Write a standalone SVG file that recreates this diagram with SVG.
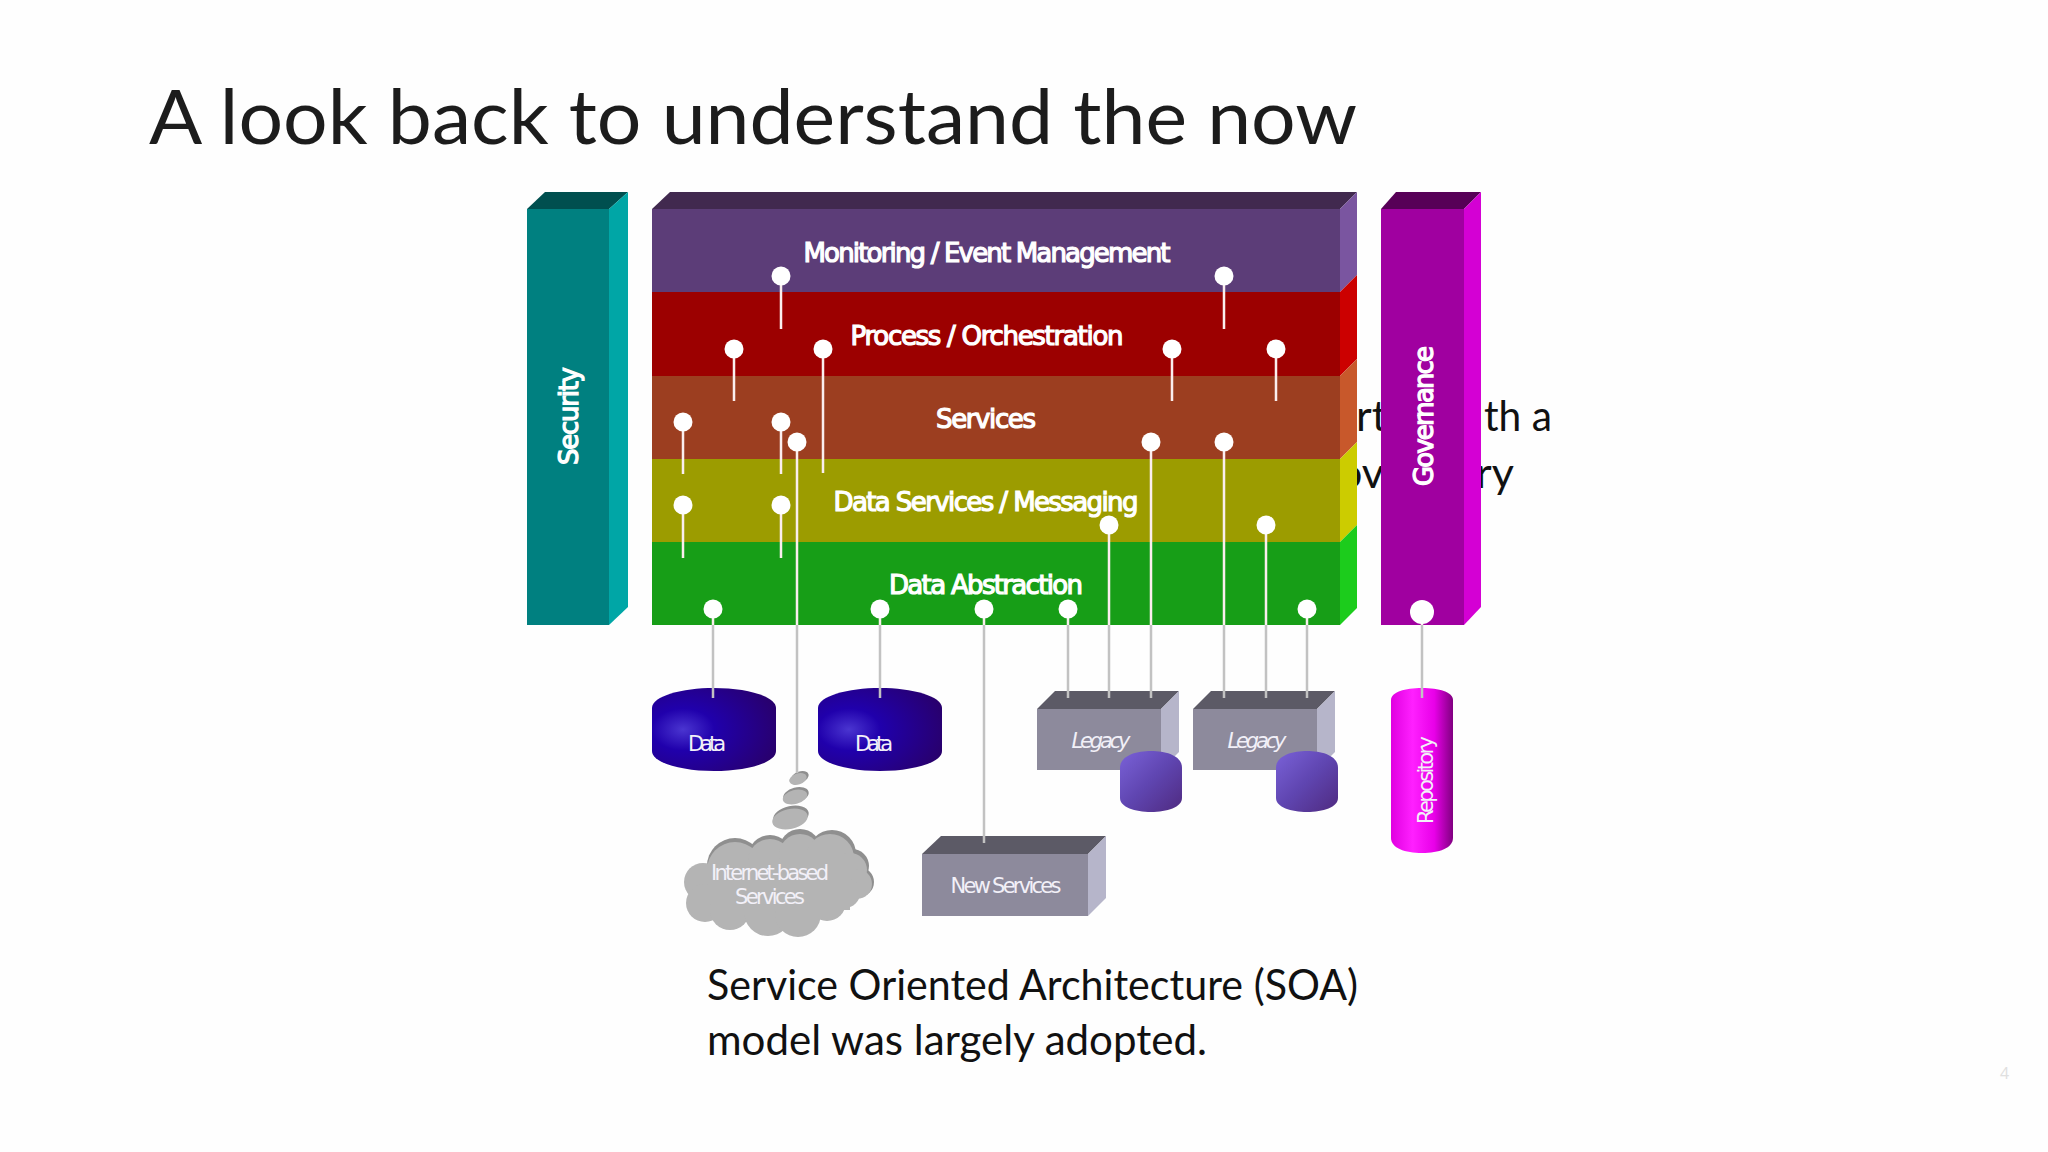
<svg xmlns="http://www.w3.org/2000/svg" width="2048" height="1152" viewBox="0 0 2048 1152">
<defs>
<radialGradient id="dataG" cx="0.25" cy="0.5" r="0.9"><stop offset="0" stop-color="#4a35d0"/><stop offset="0.28" stop-color="#2000ac"/><stop offset="1" stop-color="#2a0060"/></radialGradient>
<linearGradient id="smallG" x1="0" y1="0" x2="1" y2="1"><stop offset="0" stop-color="#7a62d8"/><stop offset="0.5" stop-color="#5f45b0"/><stop offset="1" stop-color="#4f2a80"/></linearGradient>
<linearGradient id="repoG" x1="0" y1="0" x2="1" y2="0"><stop offset="0" stop-color="#e000e0"/><stop offset="0.35" stop-color="#ff20ff"/><stop offset="0.7" stop-color="#e800e8"/><stop offset="1" stop-color="#800080"/></linearGradient>
<style>
.body{font-family:"Lato","Open Sans",sans-serif;fill:#111;font-size:43px}
.lb{font-family:"DejaVu Sans",sans-serif;fill:#fff;stroke:#fff;stroke-width:1.2;font-size:26px;text-anchor:middle}
.ls{font-family:"DejaVu Sans",sans-serif;fill:#f2f0f8;font-size:21px;text-anchor:middle}
.w{stroke:#fbeeee;stroke-width:2.5;fill:none}
.g{stroke:#c2c2c2;stroke-width:2.5;fill:none}
.d{fill:#fff}
</style>
</defs>
<rect width="2048" height="1152" fill="#fefefe"/>
<text x="149" y="144" font-family="Lato,Open Sans,sans-serif" font-size="76" fill="#1c1c1c" textLength="1208" lengthAdjust="spacingAndGlyphs">A look back to understand the now</text>
<text class="body" x="1356" y="431">rt</text>
<text class="body" x="1484" y="431" textLength="68" lengthAdjust="spacingAndGlyphs">th a</text>
<text class="body" x="1338" y="488">ov</text>
<text class="body" x="1476" y="488">ry</text>
<text class="body" x="707" y="1000" textLength="651" lengthAdjust="spacingAndGlyphs">Service Oriented Architecture (SOA)</text>
<text class="body" x="707" y="1055" textLength="500" lengthAdjust="spacingAndGlyphs">model was largely adopted.</text>
<text x="2000" y="1079" font-family="Open Sans,sans-serif" font-size="16" fill="#e0e0e0">4</text>

<g id="security">
<polygon points="527,209 545,192 628,192 609,209" fill="#004f4f"/>
<rect x="527" y="209" width="82" height="416" fill="#008080"/>
<polygon points="609,209 628,192 628,607 609,625" fill="#00a6a6"/>
<text class="lb" transform="translate(578,416) rotate(-90)" textLength="98" lengthAdjust="spacing">Security</text>
</g>
<g id="governance">
<polygon points="1381,209 1396,192 1481,192 1464,209" fill="#570057"/>
<rect x="1381" y="209" width="83" height="416" fill="#a000a0"/>
<polygon points="1464,209 1481,192 1481,607 1464,625" fill="#d400d4"/>
<text class="lb" transform="translate(1433,416) rotate(-90)" textLength="140" lengthAdjust="spacing">Governance</text>
</g>
<g id="stack-top">
<polygon points="652,209 670,192 1357,192 1340,209" fill="#41294f"/>
</g>
<g id="monitoring">
<rect x="652" y="209" width="688" height="83" fill="#5c3d78"/>
<polygon points="1340,209 1357,192 1357,275 1340,292" fill="#7a55a0"/>
<text class="lb" x="987" y="262" textLength="367" lengthAdjust="spacing">Monitoring / Event Management</text>
</g>
<g id="process">
<rect x="652" y="292" width="688" height="84" fill="#9c0000"/>
<polygon points="1340,292 1357,275 1357,359 1340,376" fill="#cc0000"/>
<text class="lb" x="987" y="345" textLength="273" lengthAdjust="spacing">Process / Orchestration</text>
</g>
<g id="services">
<rect x="652" y="376" width="688" height="83" fill="#9c3e20"/>
<polygon points="1340,376 1357,359 1357,442 1340,459" fill="#c8582b"/>
<text class="lb" x="986" y="428" textLength="100" lengthAdjust="spacing">Services</text>
</g>
<g id="data-services">
<rect x="652" y="459" width="688" height="83" fill="#9c9c00"/>
<polygon points="1340,459 1357,442 1357,525 1340,542" fill="#cccc00"/>
<text class="lb" x="986" y="511" textLength="305" lengthAdjust="spacing">Data Services / Messaging</text>
</g>
<g id="data-abstraction">
<rect x="652" y="542" width="688" height="83" fill="#179e17"/>
<polygon points="1340,542 1357,525 1357,608 1340,625" fill="#1ccc1c"/>
<text class="lb" x="986" y="594" textLength="194" lengthAdjust="spacing">Data Abstraction</text>
</g>

<g id="data1">
<path d="M652,708 C652,696 682,688 714,688 C746,688 776,696 776,708 V751 C776,763 746,771 714,771 C682,771 652,763 652,751 Z" fill="url(#dataG)"/>
<text class="ls" x="707" y="751" textLength="38" lengthAdjust="spacing">Data</text>
</g>
<g id="data2">
<path d="M818,708 C818,696 848,688 880,688 C912,688 942,696 942,708 V751 C942,763 912,771 880,771 C848,771 818,763 818,751 Z" fill="url(#dataG)"/>
<text class="ls" x="874" y="751" textLength="38" lengthAdjust="spacing">Data</text>
</g>
<g id="legacy1">
<polygon points="1037,709 1055,691 1179,691 1161,709" fill="#5c5a66"/>
<rect x="1037" y="709" width="124" height="61" fill="#8d8a9c"/>
<polygon points="1161,709 1179,691 1179,752 1161,770" fill="#b6b5ca"/>
<text class="ls" x="1101" y="748" font-style="italic" textLength="59" lengthAdjust="spacing">Legacy</text>
<path d="M1120,768 C1120,756 1135,751 1151,751 C1167,751 1182,756 1182,768 V798 C1182,807 1167,812 1151,812 C1135,812 1120,807 1120,798 Z" fill="url(#smallG)"/>
</g>
<g id="legacy2">
<polygon points="1193,709 1211,691 1335,691 1317,709" fill="#5c5a66"/>
<rect x="1193" y="709" width="124" height="61" fill="#8d8a9c"/>
<polygon points="1317,709 1335,691 1335,752 1317,770" fill="#b6b5ca"/>
<text class="ls" x="1257" y="748" font-style="italic" textLength="59" lengthAdjust="spacing">Legacy</text>
<path d="M1276,768 C1276,756 1291,751 1307,751 C1323,751 1338,756 1338,768 V798 C1338,807 1323,812 1307,812 C1291,812 1276,807 1276,798 Z" fill="url(#smallG)"/>
</g>
<g id="new-services">
<polygon points="922,854 941,836 1106,836 1088,854" fill="#5c5a66"/>
<rect x="922" y="854" width="166" height="62" fill="#8d8a9c"/>
<polygon points="1088,854 1106,836 1106,898 1088,916" fill="#b6b5ca"/>
<text class="ls" x="1006" y="893" textLength="111" lengthAdjust="spacing">New Services</text>
</g>
<g id="repository">
<path d="M1391,700 C1391,692 1405,688 1422,688 C1439,688 1453,692 1453,700 V838 C1453,848 1439,853 1422,853 C1405,853 1391,848 1391,838 Z" fill="url(#repoG)"/>
<text class="ls" transform="translate(1433,780) rotate(-90)" textLength="88" lengthAdjust="spacing">Repository</text>
</g>
<g id="internet-services">
<ellipse cx="800" cy="777" rx="9" ry="5.5" transform="rotate(-18 800 777)" fill="#8f8f8f"/>
<ellipse cx="798" cy="779" rx="9" ry="5.5" transform="rotate(-18 798 779)" fill="#b4b4b4"/>
<ellipse cx="796" cy="795" rx="13" ry="7.5" transform="rotate(-15 796 795)" fill="#8f8f8f"/>
<ellipse cx="795" cy="797" rx="12.5" ry="7" transform="rotate(-15 795 797)" fill="#b4b4b4"/>
<ellipse cx="791" cy="816" rx="18" ry="10" transform="rotate(-12 791 816)" fill="#8f8f8f"/>
<ellipse cx="790" cy="819" rx="18" ry="10" transform="rotate(-12 790 819)" fill="#b4b4b4"/>
<g fill="#8f8f8f"><circle cx="735" cy="866" r="28"/><circle cx="770" cy="857" r="22"/><circle cx="800" cy="850" r="21"/><circle cx="832" cy="854" r="24"/><circle cx="852" cy="866" r="17"/><circle cx="859" cy="882" r="15"/></g>
<g fill="#b4b4b4"><circle cx="735" cy="870" r="28"/><circle cx="770" cy="861" r="22"/><circle cx="800" cy="855" r="21"/><circle cx="830" cy="858" r="24"/><circle cx="850" cy="870" r="17"/><circle cx="857" cy="884" r="15"/>
<circle cx="703" cy="882" r="19"/><circle cx="705" cy="903" r="19"/><circle cx="730" cy="910" r="20"/><circle cx="768" cy="912" r="24"/><circle cx="798" cy="914" r="23"/><circle cx="827" cy="902" r="19"/><circle cx="845" cy="893" r="15"/><rect x="712" y="860" width="138" height="50"/></g>
<text class="ls" x="770" y="880" textLength="118" lengthAdjust="spacing">Internet-based</text>
<text class="ls" x="770" y="904" textLength="70" lengthAdjust="spacing">Services</text>
</g>

<g id="connectors">
<path class="w" d="M781,276V329M1224,276V329M734,349V401M823,349V473M1172,349V401M1276,349V401M683,422V474M781,422V474M797,442V625M1151,442V625M1224,442V625M683,504V558M781,504V558M1109,525V625M1266,525V625M1307,609V625M1068,609V625M984,609V625M880,609V625M713,609V625M1422,612V625"/>
<path class="g" d="M797,625V773M1151,625V698M1224,625V698M1109,625V698M1266,625V698M1307,625V698M1068,625V698M984,625V843M880,625V698M713,625V698M1422,625V698"/>
<g class="d">
<circle cx="781" cy="276" r="9.5"/><circle cx="1224" cy="276" r="9.5"/>
<circle cx="734" cy="349" r="9.5"/><circle cx="823" cy="349" r="9.5"/><circle cx="1172" cy="349" r="9.5"/><circle cx="1276" cy="349" r="9.5"/>
<circle cx="683" cy="422" r="9.5"/><circle cx="781" cy="422" r="9.5"/><circle cx="797" cy="442" r="9.5"/><circle cx="1151" cy="442" r="9.5"/><circle cx="1224" cy="442" r="9.5"/>
<circle cx="683" cy="505" r="9.5"/><circle cx="781" cy="505" r="9.5"/><circle cx="1109" cy="525" r="9.5"/><circle cx="1266" cy="525" r="9.5"/>
<circle cx="713" cy="609" r="9.5"/><circle cx="880" cy="609" r="9.5"/><circle cx="984" cy="609" r="9.5"/><circle cx="1068" cy="609" r="9.5"/><circle cx="1307" cy="609" r="9.5"/>
<circle cx="1422" cy="612" r="12"/>
</g>
</g>
</svg>
